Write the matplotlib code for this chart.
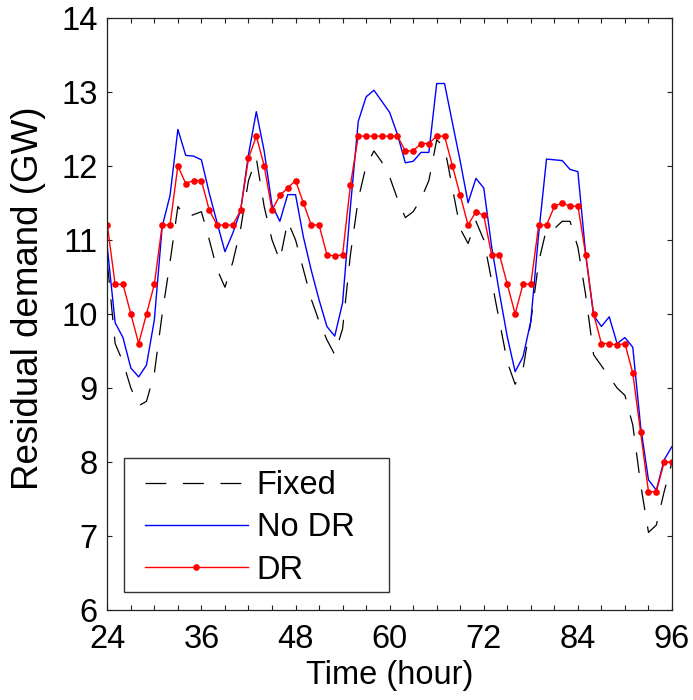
import matplotlib
matplotlib.use("Agg")
import matplotlib.pyplot as plt
from matplotlib.ticker import MultipleLocator
from matplotlib.patches import Rectangle

hours = list(range(24, 97))

fixed = [10.7, 9.6, 9.35, 9.0, 8.76, 8.82, 9.2, 10.0, 10.7, 11.45,
         11.3, 11.34, 11.38, 11.0, 10.6, 10.36, 10.7, 11.15, 11.8, 12.1,
         11.45, 11.0, 10.72, 11.25, 11.0, 10.6, 10.2, 9.9, 9.65, 9.45,
         9.8, 10.8, 11.55, 12.0, 12.2, 12.05, 11.85, 11.55, 11.3, 11.38,
         11.55, 11.8, 12.35, 12.25, 11.7, 11.15, 10.95, 11.25, 11.0, 10.45,
         9.9, 9.35, 9.05, 9.25, 9.9, 10.7, 11.15, 11.15, 11.25, 11.25,
         10.9, 10.25, 9.45, 9.3, 9.15, 9.0, 8.9, 8.5, 7.7, 7.05,
         7.15, 7.6, 8.0]

no_dr = [10.9, 9.88, 9.68, 9.27, 9.15, 9.31, 9.92, 11.18, 11.6, 12.49,
         12.14, 12.13, 12.08, 11.63, 11.23, 10.84, 11.09, 11.4, 12.15, 12.73,
         12.2, 11.47, 11.25, 11.61, 11.61, 11.04, 10.59, 10.19, 9.83, 9.7,
         10.15, 11.45, 12.6, 12.93, 13.02, 12.87, 12.72, 12.42, 12.04, 12.06,
         12.18, 12.18, 13.11, 13.11, 12.58, 12.06, 11.5, 11.83, 11.7, 10.91,
         10.28, 9.69, 9.22, 9.42, 9.9, 11.08, 12.09, 12.08, 12.07, 11.95,
         11.92, 10.8, 9.98, 9.83, 9.96, 9.6, 9.68, 9.55, 8.48, 7.76,
         7.62, 8.03, 8.21]

dr = [11.2, 10.4, 10.4, 10.0, 9.6, 10.0, 10.4, 11.2, 11.2, 12.0,
      11.76, 11.8, 11.8, 11.4, 11.2, 11.2, 11.2, 11.4, 12.1, 12.4,
      12.0, 11.4, 11.6, 11.7, 11.8, 11.5, 11.2, 11.2, 10.8, 10.78,
      10.8, 11.74, 12.4, 12.4, 12.4, 12.4, 12.4, 12.4, 12.2, 12.2,
      12.3, 12.3, 12.4, 12.4, 12.0, 11.6, 11.2, 11.38, 11.33, 10.8,
      10.8, 10.4, 10.0, 10.4, 10.4, 11.2, 11.2, 11.45, 11.5, 11.45,
      11.46, 10.8, 10.0, 9.6, 9.6, 9.58, 9.6, 9.2, 8.4, 7.6,
      7.6, 8.0, 8.0]

series_labels = ["Fixed", "No DR", "DR"]
x_major = [24, 36, 48, 60, 72, 84, 96]
y_ticks = [6, 7, 8, 9, 10, 11, 12, 13, 14]

plt.rcParams['font.family'] = ['Liberation Sans', 'DejaVu Sans']
plt.rcParams['lines.scale_dashes'] = False
FS = 23.5

fig = plt.figure(figsize=(6.93, 7.0), dpi=100)
W, H = 693.0, 700.0
AX_L, AX_B, AX_W, AX_H = 107.3, 610.2, 564.7, 592.6
ax = fig.add_axes([AX_L / W, 1 - AX_B / H, AX_W / W, AX_H / H])


def ax_x(px):
    return (px - AX_L) / AX_W


def ax_y(py):
    return (AX_B - py) / AX_H


ax.plot(hours, fixed, color='black', lw=0.9, dashes=(15, 12), label=series_labels[0])
ax.plot(hours, no_dr, color='#0000ff', lw=1.0, label=series_labels[1])
ax.plot(hours, dr, color='#ff0000', lw=1.0, marker='o', markersize=4.8,
        markeredgewidth=0, label=series_labels[2])

ax.set_xlim(24, 96)
ax.set_ylim(6, 14)
ax.set_xticks(x_major)
ax.xaxis.set_minor_locator(MultipleLocator(3))
ax.set_yticks(y_ticks)
ax.tick_params(axis='both', which='both', direction='in', length=3.8, width=0.8,
               top=True, right=True, labelsize=FS, colors='#222222', labelcolor='black')
ax.tick_params(axis='x', which='major', pad=10)
ax.tick_params(axis='y', which='major', pad=7)
for s in ax.spines.values():
    s.set_linewidth(0.9)
    s.set_color('#222222')

ax.set_xlabel("Time (hour)", fontsize=FS)
ax.set_ylabel("Residual demand (GW)", fontsize=26.5)
ax.xaxis.set_label_coords(0.5, -0.084)
ax.yaxis.set_label_coords(-0.108, ax_y(298))

# legend box (frame drawn separately to match the wide MATLAB-style box)
box = Rectangle((ax_x(124), ax_y(592)), ax_x(389) - ax_x(124), ax_y(458) - ax_y(592),
                transform=ax.transAxes, facecolor='white', edgecolor='#333333',
                linewidth=1.0, zorder=4.5)
ax.add_patch(box)

leg = ax.legend(loc='upper left', bbox_to_anchor=(ax_x(145), ax_y(470)), borderaxespad=0,
                fontsize=FS, handlelength=3.15, handletextpad=0.27, labelspacing=0.35,
                borderpad=0.0, frameon=False)
leg.set_zorder(5)
leg.legend_handles[2].set_markevery([1])

fig.savefig("out.png", dpi=100)
